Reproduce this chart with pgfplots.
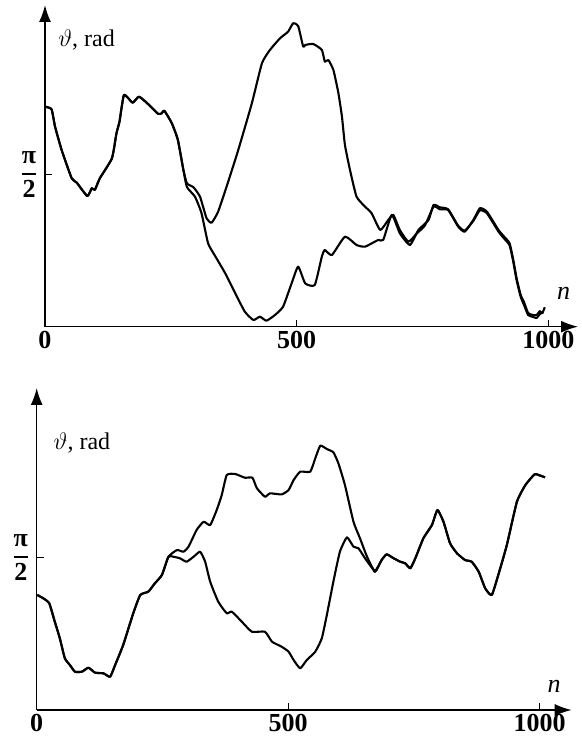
\documentclass[border=0pt]{standalone}
\usepackage{fontspec}
\setmainfont{Liberation Serif}
\usepackage{amsmath}
\usepackage{pgfplots}
\pgfplotsset{compat=1.18}
\usetikzlibrary{arrows.meta}
\newcommand{\pifrac}{$\genfrac{}{}{0.9pt}{0}{\mbox{\bfseries π}}{\mbox{\bfseries 2}}$}
\pgfplotsset{myax/.style={
  scale only axis, axis lines=left,
  axis line style={line width=0.8pt, -{Latex[length=8.5pt,width=6pt]}},
  xmin=0, ymin=0,
  xtick={0,500,1000}, xticklabels={0,500,1000},
  ytick={1.5708}, yticklabels={\pifrac},
  tick align=inside, major tick length=3.5pt,
  tick style={line width=0.6pt, black},
  xticklabel style={font=\fontsize{13}{13}\selectfont\bfseries, inner sep=2pt},
  yticklabel style={font=\fontsize{13}{13}\selectfont\bfseries, inner sep=3pt},
  cycle list={{black,mark=none}},
  every axis plot post/.append style={black, line width=1.05pt, line join=round, mark=none, smooth, tension=0.3},
  anchor=south west,
}}
\begin{document}
\begin{tikzpicture}
\useasboundingbox (0pt,0pt) rectangle (291pt,370pt);
% top panel
\begin{axis}[myax, at={(22.5pt,206.65pt)}, width=266.5pt, height=160.85pt, xmax=1059, ymax=3.316]
\addplot coordinates {(0,2.268)(13,2.241)(20,2.062)(33,1.822)(53,1.530)(63,1.485)(84,1.347)(93,1.427)(99,1.410)(109,1.530)(133,1.736)(142,1.994)(148,2.113)(157,2.389)(174,2.309)(187,2.371)(209,2.275)(225,2.193)(232,2.200)(237,2.227)(252,2.097)(264,1.925)(275,1.615)(282,1.478)
(295,1.437)(308,1.340)(321,1.118)(331,1.072)(344,1.186)(364,1.495)(384,1.822)(411,2.303)(431,2.715)(447,2.853)(467,2.973)(483,3.041)(493,3.128)(503,3.100)(513,2.887)(517,2.904)(533,2.914)(550,2.853)(556,2.732)(563,2.749)(573,2.646)(583,2.406)(590,2.165)(596,1.871)(606,1.615)(619,1.340)(636,1.237)(649,1.169)(666,0.997)(682,1.100)(692,1.152)(705,0.997)(722,0.876)(739,0.963)(755,1.045)(772,1.237)(785,1.210)(801,1.203)
(821,1.031)(834,0.979)(851,1.100)(864,1.221)(878,1.186)(901,0.997)(912,0.93)(923,0.86)(930,0.70)(937,0.50)(945,0.33)(952,0.25)(960,0.14)(970,0.12)(977,0.12)(983,0.16)(988,0.14)(993,0.20)};
\addplot coordinates {(0,2.268)(13,2.241)(20,2.062)(33,1.822)(53,1.530)(63,1.485)(84,1.347)(93,1.427)(99,1.410)(109,1.530)(133,1.736)(142,1.994)(148,2.113)(157,2.389)(174,2.309)(187,2.371)(209,2.275)(225,2.193)(232,2.200)(237,2.227)(252,2.097)(264,1.925)(275,1.615)
(282,1.44)(298,1.340)(311,1.169)(324,0.860)(338,0.729)(358,0.551)(378,0.344)(397,0.155)(414,0.069)(427,0.103)(440,0.062)(457,0.121)(473,0.206)(490,0.447)(503,0.619)(517,0.447)(536,0.430)(550,0.722)(556,0.791)(570,0.739)(596,0.928)(619,0.842)(636,0.825)(662,0.894)(672,0.894)(689,1.152)(705,0.963)(725,0.842)(742,0.997)(762,1.100)(772,1.255)(785,1.23)(801,1.21)
(821,1.04)(834,0.99)(851,1.09)(864,1.20)(878,1.17)(901,0.98)(912,0.91)(923,0.84)(930,0.68)(937,0.48)(945,0.31)(952,0.22)(960,0.12)(970,0.10)(977,0.09)(983,0.13)(990,0.15)};
\end{axis}
% bottom panel
\begin{axis}[myax, at={(18.35pt,15pt)}, width=267.5pt, height=161pt, xmax=1064, ymax=3.32]
\addplot coordinates {(1,1.186)(13,1.152)(25,1.100)(36,0.910)(46,0.739)(56,0.533)(66,0.464)(76,0.395)(90,0.395)(103,0.436)(116,0.385)(133,0.378)(146,0.343)(156,0.464)(172,0.670)(192,0.997)(206,1.186)(222,1.220)(235,1.306)(249,1.392)(262,1.580)
(279,1.649)(292,1.632)(302,1.684)(318,1.856)(332,1.941)(345,1.907)(358,2.062)(368,2.216)(378,2.423)(395,2.433)(414,2.395)(429,2.395)(438,2.286)(454,2.199)(464,2.234)(487,2.223)(501,2.268)(511,2.371)(524,2.457)(544,2.457)(554,2.595)(564,2.725)(577,2.691)(590,2.657)(600,2.543)(613,2.320)(630,1.941)(643,1.770)(657,1.580)(673,1.426)
(686,1.546)(696,1.605)(710,1.564)(723,1.529)(733,1.512)(743,1.461)(753,1.564)(769,1.770)(786,1.907)(797,2.062)(809,1.941)(822,1.72)(836,1.615)(852,1.546)(865,1.529)(879,1.426)(892,1.254)(905,1.186)(918,1.392)(935,1.701)(955,2.147)(972,2.320)(990,2.430)(998,2.423)(1011,2.399)};
\addplot coordinates {(1,1.186)(13,1.152)(25,1.100)(36,0.910)(46,0.739)(56,0.533)(66,0.464)(76,0.395)(90,0.395)(103,0.436)(116,0.385)(133,0.378)(146,0.343)(156,0.464)(172,0.670)(192,0.997)(206,1.186)(222,1.220)(235,1.306)(249,1.392)(262,1.580)
(272,1.580)(285,1.564)(298,1.529)(312,1.580)(325,1.632)(335,1.529)(345,1.323)(361,1.117)(378,0.997)(388,1.014)(408,0.910)(428,0.807)(454,0.807)(468,0.704)(487,0.653)(501,0.601)(511,0.515)(524,0.430)(537,0.515)(554,0.601)(567,0.739)(577,0.979)(590,1.323)(603,1.632)(617,1.780)(630,1.684)(640,1.667)(653,1.564)(670,1.443)(673,1.426)
(686,1.546)(696,1.605)(710,1.564)(723,1.529)(733,1.512)(743,1.461)(753,1.564)(769,1.770)(786,1.907)(797,2.062)(809,1.941)(822,1.72)(836,1.615)(852,1.546)(865,1.529)(879,1.426)(892,1.254)(905,1.186)(918,1.392)(935,1.701)(955,2.147)(972,2.320)(990,2.430)(998,2.423)(1011,2.399)};
\end{axis}
% axis labels
\node[anchor=base west, inner sep=0pt, font=\fontsize{12}{12}\selectfont] at (29pt,346.65pt) {$\vartheta$, rad};
\node[anchor=base, inner sep=0pt, font=\fontsize{13}{13}\selectfont\itshape] at (281.75pt,220pt) {n};
\node[anchor=base west, inner sep=0pt, font=\fontsize{12}{12}\selectfont] at (26.65pt,145pt) {$\vartheta$, rad};
\node[anchor=base, inner sep=0pt, font=\fontsize{13}{13}\selectfont\itshape] at (277pt,23.5pt) {n};
\end{tikzpicture}
\end{document}
